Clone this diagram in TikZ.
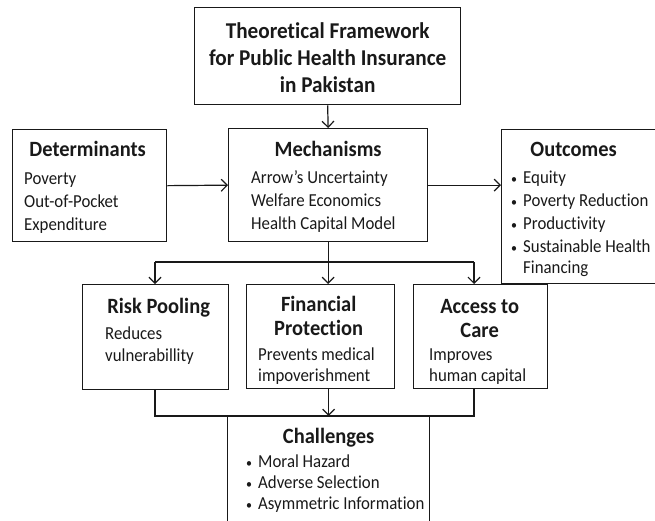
\documentclass[tikz,border=0pt]{standalone}
\usepackage{fontspec}
\setmainfont[FakeStretch=0.92, Ligatures=NoCommon]{Carlito}
\newfontfamily\headfont[FakeStretch=0.94, Ligatures=NoCommon]{Carlito}
\usetikzlibrary{arrows.meta}

% stacked lines, baseline on the first row
\newcommand{\stack}[2][l]{\begin{tabular}[t]{@{}#1@{}}#2\end{tabular}}
% small bullet in a fixed-width slot
\newcommand{\bul}{\makebox[12pt][l]{\fontsize{13}{13}\selectfont •}}

\begin{document}
\begin{tikzpicture}[x=1pt, y=-1pt,
    panel/.style={draw=black!90, line width=1.3pt, inner sep=0pt, anchor=north west},
    head/.style={anchor=base, inner sep=0pt, text=black!90, font=\fontsize{21.8}{24.5}\selectfont\headfont\bfseries},
    txt/.style={anchor=base west, inner sep=0pt, text=black!90, font=\fontsize{18.3}{23}\selectfont},
    txtlow/.style={txt, font=\fontsize{18.3}{21}\selectfont},
    arr/.style={-{Straight Barb[length=6pt, width=12pt]}, line width=1.2pt, draw=black!90},
    link/.style={line width=1.2pt, draw=black!90}]

    \useasboundingbox (0,0) rectangle (655,520);

    % boxes
    \node[panel, minimum width=266pt, minimum height=97pt] (title) at (194,7) {};
    \node[panel, minimum width=154pt, minimum height=112pt] (det) at (12,129) {};
    \node[panel, minimum width=199pt, minimum height=113pt] (mech) at (228,128) {};
    \node[panel, minimum width=154pt, minimum height=154pt] (out) at (501,129) {};
    \node[panel, minimum width=146pt, minimum height=105pt] (risk) at (82,284) {};
    \node[panel, minimum width=148pt, minimum height=104pt] (fin) at (246,284) {};
    \node[panel, minimum width=134pt, minimum height=104pt] (acc) at (413,284) {};
    \node[panel, minimum width=202pt, minimum height=110pt] (chal) at (227,416) {};

    % texts
    \node[head, font=\fontsize{22.6}{27}\selectfont\headfont\bfseries] (titleText) at ([yshift=-31pt]title.north)
        {\stack[c]{Theoretical Framework\\ for Public Health Insurance\\ in Pakistan}};

    \node[head] (detHead) at ([xshift=-2pt, yshift=-27pt]det.north) {Determinants};
    \node[txt] (detBody) at ([xshift=12pt, yshift=-55pt]det.north west)
        {\stack{Poverty\\ Out-of-Pocket\\ Expenditure}};

    \node[head] (mechHead) at ([yshift=-28pt]mech.north) {Mechanisms};
    \node[txt] (mechBody) at ([xshift=23pt, yshift=-55pt]mech.north west)
        {\stack{Arrow's Uncertainty\\ Welfare Economics\\ Health Capital Model}};

    \node[head] (outHead) at ([xshift=-5pt, yshift=-27pt]out.north) {Outcomes};
    \node[txt] (outBody) at ([xshift=10pt, yshift=-54pt]out.north west)
        {\stack{\bul Equity\\ \bul Poverty Reduction\\ \bul Productivity\\ \bul Sustainable Health\\[-2pt] \hspace*{12pt}Financing}};

    \node[head] (riskHead) at ([xshift=3pt, yshift=-29pt]risk.north) {Risk Pooling};
    \node[txtlow] (riskBody) at ([xshift=23pt, yshift=-55pt]risk.north west)
        {\stack{Reduces\\[1pt] vulnerabillity}};

    \node[head] (finHead) at ([xshift=-2pt, yshift=-27pt]fin.north) {\stack[c]{Financial\\ Protection}};
    \node[txtlow] (finBody) at ([xshift=12pt, yshift=-76pt]fin.north west)
        {\stack{Prevents medical\\ impoverishment}};

    \node[head] (accHead) at ([xshift=-1pt, yshift=-29pt]acc.north) {\stack[c]{Access to\\ Care}};
    \node[txtlow] (accBody) at ([xshift=16pt, yshift=-76pt]acc.north west)
        {\stack{Improves\\ human capital}};

    \node[head] (chalHead) at ([yshift=-27pt]chal.north) {Challenges};
    \node[txtlow] (chalBody) at ([xshift=19pt, yshift=-51pt]chal.north west)
        {\stack{\bul Moral Hazard\\ \bul Adverse Selection\\ \bul Asymmetric Information}};

    % connectors
    \coordinate (splitL) at (155,262);
    \coordinate (splitR) at (474,262);
    \coordinate (mergeL) at (155,416);
    \coordinate (mergeR) at (474,416);

    \draw[arr] (title.south) -- (mech.north);
    \draw[arr] (det.east) -- (mech.west);
    \draw[arr] (mech.east) -- (mech.east -| out.west);

    \draw[arr] (mech.south) -- (mech.south |- fin.north);
    \draw[link] (splitL) -- (splitR);
    \draw[arr] (splitL) -- (splitL |- risk.north);
    \draw[arr] (splitR) -- (splitR |- acc.north);

    \draw[link] (splitL |- risk.south) -- (mergeL) -- (mergeR) -- (splitR |- acc.south);
    \draw[arr] (fin.south -| chal.north) -- (chal.north);
\end{tikzpicture}
\end{document}
